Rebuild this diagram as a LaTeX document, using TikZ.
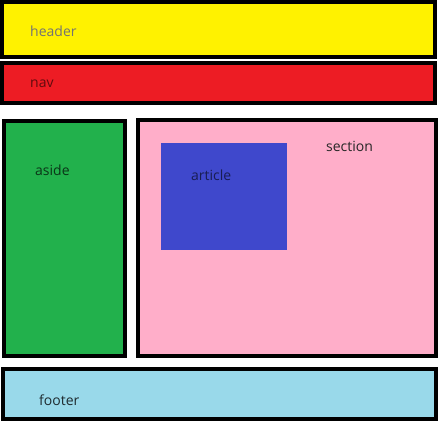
\documentclass[tikz,border=0pt]{standalone}
\usepackage{fontspec}
\setmainfont{Open Sans}
\definecolor{pyellow}{HTML}{FFF200}
\definecolor{pred}{HTML}{ED1C24}
\definecolor{pgreen}{HTML}{22B14C}
\definecolor{ppink}{HTML}{FFAEC9}
\definecolor{pblue}{HTML}{3F48CC}
\definecolor{plblue}{HTML}{99D9EA}
\begin{document}
\begin{tikzpicture}[x=1pt,y=-1pt,
  box/.style={draw=black,line width=4pt},
  lbl/.style={font=\fontsize{14}{16}\selectfont,inner sep=0pt}]
\useasboundingbox (0,0) rectangle (438,421);
\fill[white] (0,0) rectangle (438,421);
\draw[box,fill=pyellow] (2,2) rectangle (435,56.5);
\draw[box,fill=pred] (2,62.5) rectangle (435,103);
\draw[box,fill=pgreen] (3.5,120.5) rectangle (125,356);
\draw[box,fill=ppink] (137.5,119.5) rectangle (436,356);
\fill[pblue] (161,142.5) rectangle (286.5,250);
\draw[box,fill=plblue] (3,368.5) rectangle (435.5,419);
\node[lbl,text=black!55,anchor=west] (header) at (30,31) {header};
\node[lbl,text=pred!40!black,anchor=west] (nav) at (30,84) {nav};
\node[lbl,text=pgreen!30!black,anchor=west] (aside) at (35,170) {aside};
\node[lbl,text=pblue!40!black,anchor=west] (article) at (191,175) {article};
\node[lbl,text=black!85,anchor=west] (section) at (326,146) {section};
\node[lbl,text=plblue!20!black,anchor=west] (footer) at (39,400) {footer};
\end{tikzpicture}
\end{document}
